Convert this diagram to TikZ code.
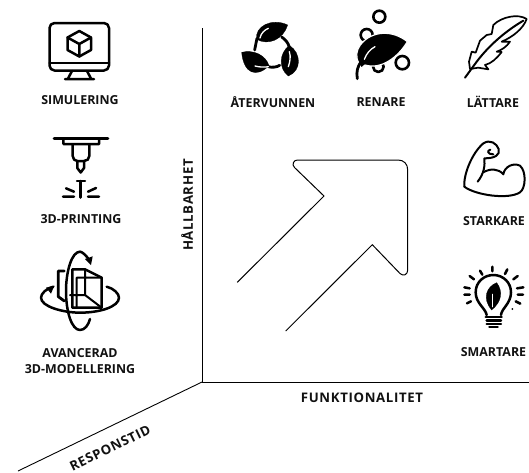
\documentclass[tikz,border=0pt]{standalone}
\usepackage{fontspec}
\setmainfont{Open Sans}
\newfontfamily\axisfont[LetterSpace=5]{Open Sans}
\definecolor{ink}{HTML}{111111}
\tikzset{
  lab/.style={font=\bfseries\fontsize{12.4}{16}\selectfont,text=ink,inner sep=0pt,align=center},
  axlab/.style={font=\axisfont\bfseries\fontsize{13.2}{16}\selectfont,text=ink,inner sep=0pt},
  ico/.style={line width=2.5pt,draw=black,line cap=round,line join=round},
  icf/.style={fill=black,draw=black,line width=.3pt,line join=round},
  vein/.style={draw=white,line width=1.3pt,line cap=round},
  axis/.style={draw=black,line width=.9pt},
}
\begin{document}
\begin{tikzpicture}[x=1pt,y=-1pt]
\useasboundingbox (0,0) rectangle (529,472);
\fill[white] (0,0) rectangle (529,472);
% axes
\coordinate (o) at (202,382);
\coordinate (top) at (202,28);
\coordinate (right) at (529,382);
\coordinate (low) at (18,471);
\draw[axis] (top) -- (o) -- (right);
\draw[axis] (o) -- (low);
% big arrow
\draw[line width=1pt,line join=round]
 (237.3,282.3) -- (324,196) -- (294.5,167.5)
 .. controls (291.5,164.5) and (293.5,160) .. (297.5,160) -- (398,160)
 .. controls (404,160) and (407.7,164) .. (407.7,170) -- (407.7,270)
 .. controls (407.7,275) and (403,276.5) .. (400,273.5) -- (372.3,244.7) -- (285.7,331);
% labels
\node[lab] (simu) at (80,100) {SIMULERING};
\node[lab] (print) at (81,219.5) {3D-PRINTING};
\node[lab] (adv) at (80,361) {AVANCERAD\\3D-MODELLERING};
\node[lab] (ater) at (273,102) {ÅTERVUNNEN};
\node[lab] (ren) at (381,102) {RENARE};
\node[lab] (latt) at (493,102) {LÄTTARE};
\node[lab] (stark) at (494,221) {STARKARE};
\node[lab] (smart) at (493.5,352) {SMARTARE};
\node[axlab] (func) at (362,398) {FUNKTIONALITET};
\node[axlab,rotate=90] (hall) at (187,205) {HÅLLBARHET};
\node[axlab,rotate=26] (resp) at (110,448) {RESPONSTID};
% monitor
\draw[ico,rounded corners=5pt] (49.5,23) rectangle (109,70.5);
\draw[ico] (49.5,63) -- (109,63);
\draw[ico] (72,71) -- (68,78.5) (87,71) -- (91,78.5) (65,79) -- (94,79);
\draw[ico] (79.3,31) -- (91,37.5) -- (91,50) -- (79.3,56.5) -- (67.5,50) -- (67.5,37.5) -- cycle;
\draw[ico] (67.5,37.5) -- (79.3,44) -- (91,37.5) (79.3,44) -- (79.3,56.5);
% printer
\draw[ico,line width=2.8pt] (54,138.3) -- (108,138.3);
\draw[ico] (63.3,139) -- (63.5,144) -- (99,144) -- (99,139);
\draw[ico] (72.7,145) -- (72.7,156) .. controls (72.7,159) and (75,161) .. (77.3,161) -- (84,161) .. controls (87,161) and (89.3,159) .. (89.3,156) -- (89.3,145);
\draw[ico] (77.3,161) -- (77.3,168) -- (80.7,172.5) -- (84,168) -- (84,161);
\draw[ico] (77,181) -- (85,181) (80.7,181) -- (80.7,197.5);
\draw[ico] (63,196.7) -- (74,196.7) (88,196.7) -- (99,196.7) (66,188.3) -- (74,191.7) (88,191.7) -- (96,188);
% advanced modelling
\begin{scope}[shift={(30,245)},scale=1/3]
\draw[ico] (180,50) .. controls (170,30) and (155,20) .. (150,20) .. controls (125,20) and (108,80) .. (108,138) .. controls (108,200) and (125,255) .. (150,255) .. controls (165,255) and (175,240) .. (180,222);
\fill (183,60) -- (165,42) -- (188,34) -- cycle;
\draw[ico] (70,125) .. controls (50,130) and (33,145) .. (33,158) .. controls (33,185) and (100,203) .. (150,203) .. controls (210,203) and (267,185) .. (267,158) .. controls (267,145) and (250,130) .. (230,125);
\fill (48,128) -- (73,122) -- (63,146) -- cycle;
\draw[ico] (127,73) -- (165,73) -- (215,98) -- (215,188) -- (127,188) -- cycle;
\draw[ico,line width=2pt] (215,98) -- (140,98) -- (140,188) (165,73) -- (165,150) -- (215,188) (120,150) -- (165,150);
\draw[ico,line width=2.8pt] (103,78) -- (85,78) -- (85,155) -- (103,168);
\end{scope}
% recycling
\begin{scope}[shift={(235,10)},scale=1/3]
\path[icf] (65,88) .. controls (58,50) and (110,22) .. (158,45) .. controls (145,88) and (100,108) .. (65,88) -- cycle;
\draw[vein] (75,84) .. controls (78,70) and (88,60) .. (100,55);
\draw[ico,line width=2.8pt] (66,85) -- (59,120);
\path[icf] (160,198) .. controls (130,175) and (132,130) .. (163,106) .. controls (200,130) and (200,182) .. (160,198) -- cycle;
\draw[vein] (163,125) .. controls (168,140) and (165,155) .. (160,170);
\draw[ico,line width=2.8pt] (163,112) .. controls (160,98) and (150,88) .. (140,81);
\path[icf] (20,127) .. controls (55,118) and (92,135) .. (102,167) .. controls (65,204) and (26,192) .. (20,127) -- cycle;
\draw[ico,line width=2.8pt] (100,170) .. controls (110,173) and (125,172) .. (134,166);
\draw[vein] (60,168) .. controls (75,172) and (90,172) .. (100,170);
\end{scope}
% renare
\begin{scope}[shift={(345,0)},scale=1/3]
\draw[ico,line width=2.6pt] (103,50) circle (18);
\draw[ico,line width=2.6pt] (172,188) circle (20);
\draw[ico,line width=2.6pt] (65,105) circle (18);
\draw[ico,line width=2.6pt] (100,200) circle (16);
\path[fill=black,draw=white,line width=1.2pt,line join=round] (46,135) .. controls (80,90) and (145,90) .. (187,125) .. controls (160,170) and (110,210) .. (60,195) -- (48,205) -- (42,190) .. controls (30,170) and (35,150) .. (46,135) -- cycle;
\draw[ico,line width=2.8pt] (37,236) .. controls (33,215) and (38,200) .. (48,185);
\draw[vein] (58,178) .. controls (65,160) and (75,148) .. (90,140);
\end{scope}
% feather
\begin{scope}[shift={(455,0)},scale=1/3]
\draw[ico,line width=1.7pt] (45,207) -- (42,185) -- (50,155) -- (62,158) -- (75,122) -- (95,105) -- (110,102) -- (115,75) .. controls (140,50) and (190,40) .. (215,57) .. controls (205,85) and (175,110) .. (140,125) -- (165,125) .. controls (155,140) and (140,150) .. (125,155) -- (140,156) .. controls (125,175) and (110,190) .. (90,195) -- (100,208) -- (70,203) -- (45,207);
\draw[ico,line width=2pt] (30,233) -- (60,192) .. controls (90,150) and (140,100) .. (205,62);
\end{scope}
% muscle
\begin{scope}[shift={(455,135)},scale=1/3]
\draw[ico,line width=2pt] (28,155) .. controls (25,120) and (50,55) .. (85,25) .. controls (105,12) and (125,25) .. (131,42) .. controls (136,60) and (120,70) .. (88,70) .. controls (90,90) and (88,115) .. (68,140);
\draw[ico,line width=2pt] (106,44) .. controls (96,46) and (96,58) .. (115,58);
\draw[ico,line width=2pt] (85,112) .. controls (105,100) and (130,100) .. (145,118) .. controls (148,95) and (175,82) .. (195,92) .. controls (215,110) and (212,160) .. (195,172) .. controls (160,195) and (60,180) .. (28,155);
\end{scope}
% bulb
\begin{scope}[shift={(455,260)},scale=1/3]
\draw[ico] (95,165) .. controls (92,145) and (62,130) .. (62,97) .. controls (62,65) and (88,45) .. (115,45) .. controls (145,45) and (168,68) .. (168,97) .. controls (168,130) and (140,145) .. (138,165);
\draw[ico,line width=2.4pt] (92,171) -- (140,171) (95,182) -- (138,182) (95,192) -- (138,192) (103,201) -- (128,201);
\path[icf] (125,68) .. controls (95,80) and (80,115) .. (110,150) .. controls (140,125) and (145,95) .. (125,68) -- cycle;
\draw[vein] (113,103) -- (113,140);
\draw[ico] (112,20) -- (112,34) (75,32) -- (82,44) (157,28) -- (150,42) (44,48) -- (57,58) (188,48) -- (175,58) (28,82) -- (44,85) (205,82) -- (186,85) (28,104) -- (44,104) (188,104) -- (204,104) (36,130) -- (48,124) (182,124) -- (196,131);
\fill (172,147) circle (3);
\end{scope}
\end{tikzpicture}
\end{document}
